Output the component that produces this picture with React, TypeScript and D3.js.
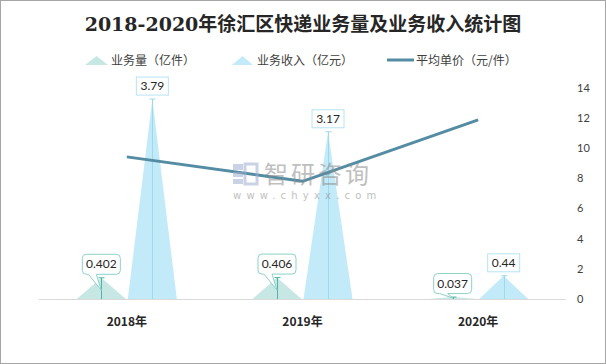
import { useRef, useEffect } from "react";
import * as d3 from "d3";

const years = ["2018年", "2019年", "2020年"];
const volume = [0.402, 0.406, 0.037]; // 业务量（亿件）
const revenue = [3.79, 3.17, 0.44]; // 业务收入（亿元）
const unitPrice = [9.43, 7.81, 11.89]; // 平均单价（元/件）
const seriesNames = ["业务量（亿件）", "业务收入（亿元）", "平均单价（元/件）"];

const W = 606;
const H = 364;

function callout(x0: number, y0: number, w: number, h: number, r: number, t1: number, t2: number, tx: number, ty: number) {
  const x1 = x0 + w, y1 = y0 + h;
  return `M${x0 + r},${y0}H${x1 - r}Q${x1},${y0} ${x1},${y0 + r}V${y1 - r}Q${x1},${y1} ${x1 - r},${y1}` +
    `H${t2}L${tx},${ty}L${t1},${y1}H${x0 + r}Q${x0},${y1} ${x0},${y1 - r}V${y0 + r}Q${x0},${y0} ${x0 + r},${y0}Z`;
}

export default function App() {
  const svgRef = useRef<SVGSVGElement>(null);

  useEffect(() => {
    if (!svgRef.current) return;
    const svg = d3.select(svgRef.current);
    svg.selectAll("*").remove();

    const left = 39, right = 566, base = 299, top = 88;
    const x0 = d3.scaleBand<string>().domain(years).range([left, right]);
    const bw = x0.bandwidth();
    const x1 = d3.scaleBand<string>().domain(["vol", "rev"]).range([bw / 2 - 50, bw / 2 + 50]).paddingInner(0.04);
    const yL = d3.scaleLinear().domain([0, 4]).range([base, top]);
    const yR = d3.scaleLinear().domain([0, 14]).range([base, top]);

    const numFont = "Lato, 'Noto Sans CJK SC', sans-serif";
    const cjkFont = "'Noto Sans CJK SC', sans-serif";

    // frame
    svg.append("rect").attr("x", 0.5).attr("y", 0.5).attr("width", W - 1).attr("height", H - 1)
      .attr("fill", "#fff").attr("stroke", "#a6a6a6");

    // title
    svg.append("text").attr("x", W / 2).attr("y", 31).attr("text-anchor", "middle")
      .attr("font-family", "'DejaVu Serif', 'Noto Sans CJK SC', serif").attr("font-weight", 700)
      .attr("font-size", 19).attr("fill", "#262626")
      .text("2018-2020年徐汇区快递业务量及业务收入统计图");

    // legend
    const lg = svg.append("g").attr("font-family", cjkFont).attr("font-size", 12).attr("fill", "#404040");
    lg.append("path").attr("d", "M85,65L96.5,56L108,65Z").attr("fill", "#c6e7e3");
    lg.append("text").attr("x", 111).attr("y", 64.5).text(seriesNames[0]);
    lg.append("path").attr("d", "M232,65L242.5,56L253,65Z").attr("fill", "#c3eaf8");
    lg.append("text").attr("x", 257).attr("y", 64.5).text(seriesNames[1]);
    lg.append("line").attr("x1", 387).attr("x2", 414).attr("y1", 60).attr("y2", 60)
      .attr("stroke", "#548ca3").attr("stroke-width", 3);
    lg.append("text").attr("x", 416).attr("y", 64.5).text(seriesNames[2]);

    // baseline
    svg.append("line").attr("x1", left).attr("x2", right).attr("y1", base + 0.5).attr("y2", base + 0.5)
      .attr("stroke", "#d9d9d9");

    // right axis
    svg.append("g").selectAll("text").data(yR.ticks(7)).join("text")
      .attr("x", 577).attr("y", (d) => yR(d)).attr("dy", "0.35em")
      .attr("font-family", numFont).attr("font-size", 11).attr("fill", "#404040")
      .text((d) => d);

    // category labels
    svg.append("g").selectAll("text").data(years).join("text")
      .attr("x", (d) => x0(d)! + bw / 2).attr("y", 326).attr("text-anchor", "middle")
      .attr("font-family", cjkFont).attr("font-weight", 700).attr("font-size", 12).attr("fill", "#262626")
      .text((d) => d);

    const series = [
      { key: "vol", values: volume, fill: "#c6e7e3", stroke: "#4fb5a6" },
      { key: "rev", values: revenue, fill: "#c3eaf8", stroke: "#9cd9ee" },
    ];
    const half = x1.bandwidth() / 2;

    // triangles
    series.forEach((s) => {
      svg.append("g").selectAll("path").data(s.values).join("path")
        .attr("d", (v, i) => {
          const cx = x0(years[i])! + x1(s.key)! + half;
          return `M${cx - half},${base}L${cx},${yL(v)}L${cx + half},${base}Z`;
        })
        .attr("fill", s.fill);
    });

    // leader lines
    series.forEach((s) => {
      s.values.forEach((v, i) => {
        const cx = Math.round(x0(years[i])! + x1(s.key)! + half) + 0.5;
        const ty = yL(v);
        svg.append("line").attr("x1", cx).attr("x2", cx).attr("y1", ty).attr("y2", base)
          .attr("stroke", s.stroke).attr("stroke-width", 1);
        svg.append("line").attr("x1", cx - 3).attr("x2", cx + 3).attr("y1", ty).attr("y2", ty)
          .attr("stroke", s.stroke).attr("stroke-width", 1);
      });
    });

    // price line
    const line = d3.line<number>().x((_, i) => x0(years[i])! + bw / 2).y((d) => yR(d));
    svg.append("path").datum(unitPrice).attr("d", line).attr("fill", "none")
      .attr("stroke", "#548ca3").attr("stroke-width", 3).attr("stroke-linejoin", "round");

    // labels for revenue
    revenue.forEach((v, i) => {
      const cx = x0(years[i])! + x1("rev")! + half;
      const label = String(v);
      const w = label.length * 6.5 + 6;
      const b = yL(v) - 4;
      svg.append("rect").attr("x", cx - w / 2).attr("y", b - 18).attr("width", w).attr("height", 18)
        .attr("fill", "#fff").attr("stroke", "#b5e4f4");
      svg.append("text").attr("x", cx).attr("y", b - 5).attr("text-anchor", "middle")
        .attr("font-family", numFont).attr("font-size", 12).attr("fill", "#262626").text(label);
    });

    // labels for volume
    volume.forEach((v, i) => {
      const cx = x0(years[i])! + x1("vol")! + half;
      const label = String(v);
      const w = 38, h = 20;
      const b = yL(v) - 3.5;
      const tipY = Math.min(b + 16, base - 1);
      svg.append("path").attr("d", callout(cx - w / 2, b - h, w, h, 4, cx - 13, cx - 5, cx, tipY))
        .attr("fill", "#fff").attr("stroke", "#8dd2c8");
      svg.append("text").attr("x", cx).attr("y", b - 6).attr("text-anchor", "middle")
        .attr("font-family", numFont).attr("font-size", 12).attr("fill", "#262626").text(label);
    });

    // watermark
    const wm = svg.append("g").attr("opacity", 0.55);
    wm.append("rect").attr("x", 233).attr("y", 164).attr("width", 10).attr("height", 6).attr("fill", "#9fb0d2");
    wm.append("rect").attr("x", 233).attr("y", 172).attr("width", 10).attr("height", 5).attr("fill", "#9fb0d2");
    wm.append("rect").attr("x", 233).attr("y", 179).attr("width", 10).attr("height", 5).attr("fill", "#9fb0d2");
    wm.append("rect").attr("x", 245).attr("y", 164).attr("width", 12).attr("height", 20).attr("fill", "none")
      .attr("stroke", "#9fb0d2").attr("stroke-width", 3);
    wm.append("text").attr("x", 264).attr("y", 183).attr("font-family", cjkFont).attr("font-size", 24)
      .attr("fill", "#8c8c8c").attr("letter-spacing", 3).text("智研咨询");
    wm.append("text").attr("x", 233).attr("y", 199).attr("font-family", "'DejaVu Sans', sans-serif")
      .attr("font-size", 10).attr("fill", "#8c8c8c").attr("letter-spacing", 5.2).text("www.chyxx.com");
  }, []);

  return (
    <div style={{ position: "absolute", left: 0, top: 0, width: W, height: H }}>
      <svg ref={svgRef} width={W} height={H} style={{ display: "block" }} />
    </div>
  );
}
